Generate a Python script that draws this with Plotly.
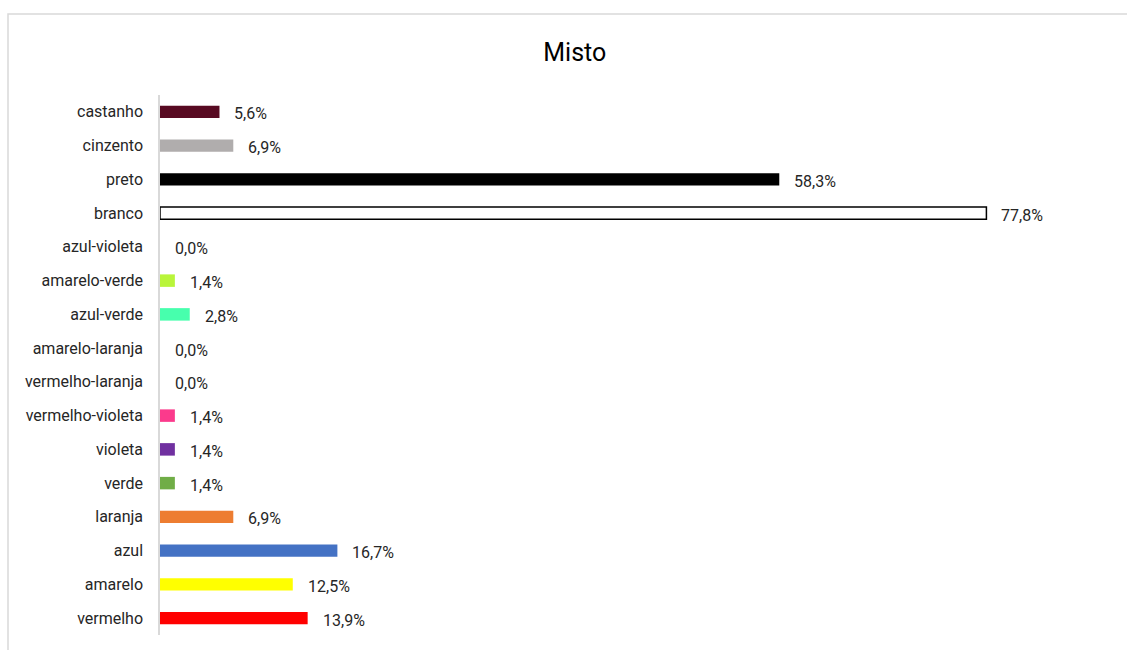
import plotly.graph_objects as go

# Colour categories, listed bottom to top as they appear on the axis
categories = [
    "vermelho", "amarelo", "azul", "laranja", "verde", "violeta",
    "vermelho-violeta", "vermelho-laranja", "amarelo-laranja", "azul-verde",
    "amarelo-verde", "azul-violeta", "branco", "preto", "cinzento", "castanho",
]
percentages = [13.9, 12.5, 16.7, 6.9, 1.4, 1.4, 1.4, 0.0, 0.0, 2.8,
               1.4, 0.0, 77.8, 58.3, 6.9, 5.6]
bar_colors = [
    "#ff0000", "#ffff00", "#4472c4", "#ed7d31", "#70ad47", "#7030a0",
    "#fb3a8c", "#f04e2b", "#ffc000", "#47ffad",
    "#b9f53a", "#5b4fc4", "#ffffff", "#000000", "#b0adad", "#580a22",
]
outline_colors = ["#000000" if c == "branco" else col
                  for c, col in zip(categories, bar_colors)]
outline_widths = [1.5 if c == "branco" else 0 for c in categories]

FONT = "Roboto, Liberation Sans, sans-serif"
TEXT = "#262626"

fig = go.Figure(
    go.Bar(
        y=categories,
        x=percentages,
        orientation="h",
        marker=dict(color=bar_colors,
                    line=dict(color=outline_colors, width=outline_widths)),
        width=0.37,
        hoverinfo="skip",
    )
)

# Value labels beside each bar, in Portuguese decimal notation
for cat, val in zip(categories, percentages):
    fig.add_annotation(
        x=val, y=cat, xref="x", yref="y",
        text=f"{val:.1f}".replace(".", ",") + "%",
        showarrow=False, xanchor="left", yanchor="middle",
        xshift=13, yshift=-2,
        font=dict(family=FONT, size=16, color=TEXT),
    )

# Light frame around the chart area
fig.add_shape(
    type="rect", xref="paper", yref="paper",
    x0=-0.159, x1=1.2, y0=-0.2, y1=1.15,
    line=dict(color="#d9d9d9", width=1.5), fillcolor="rgba(0,0,0,0)",
    layer="below",
)

fig.update_layout(
    width=1127, height=650,
    margin=dict(l=160, r=11, t=95, b=15),
    paper_bgcolor="white", plot_bgcolor="white",
    showlegend=False,
    title=dict(text="Misto", x=0.51, xanchor="center", xref="container",
               y=1 - 52 / 650, yanchor="middle", yref="container",
               font=dict(family=FONT, size=25, color="#000000")),
    xaxis=dict(range=[0, 90], showgrid=False, zeroline=False,
               showticklabels=False, showline=False, fixedrange=True),
    yaxis=dict(categoryorder="array", categoryarray=categories,
               showgrid=False, zeroline=False, showline=True,
               linecolor="#d9d9d9", linewidth=1.5, ticks="",
               ticklabelstandoff=12,
               tickfont=dict(family=FONT, size=16, color=TEXT)),
)

fig.write_html("out.html")
